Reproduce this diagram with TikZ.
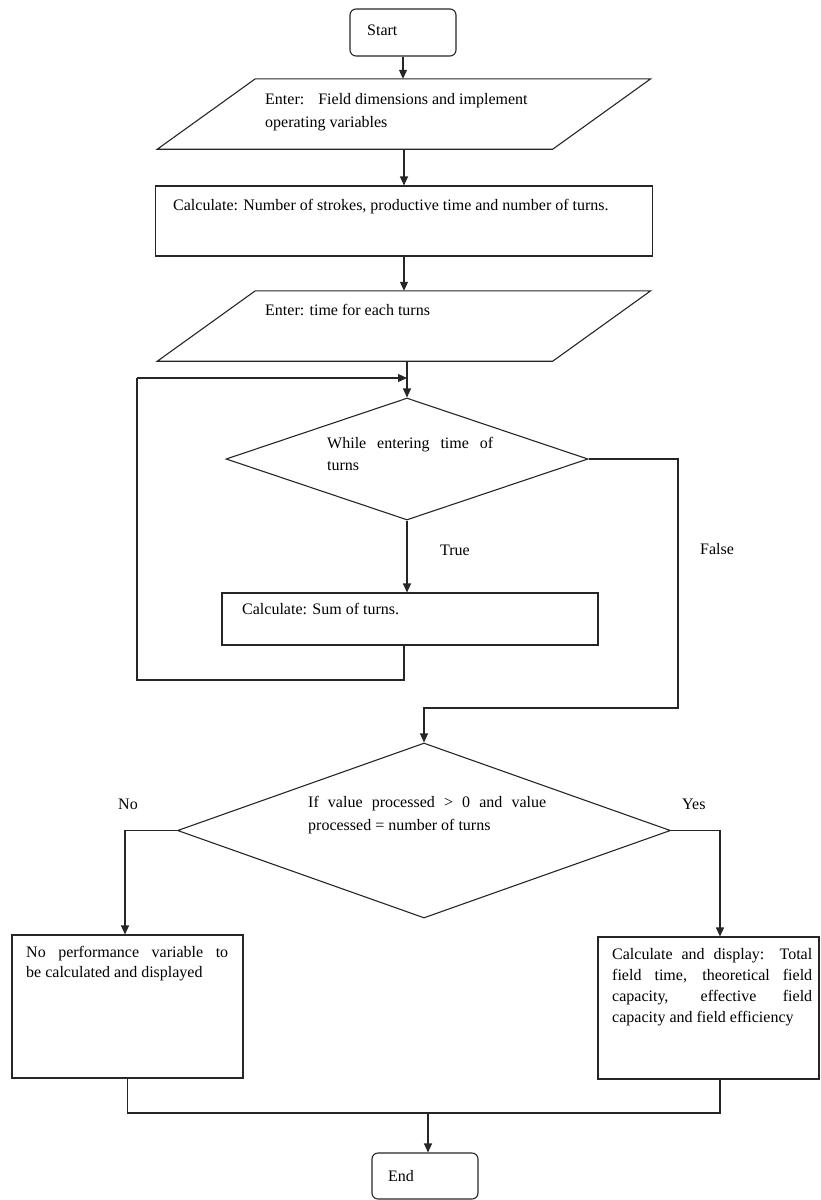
\documentclass[tikz,border=0pt]{standalone}
\usepackage{fontspec}
\setmainfont{Liberation Serif}
\usetikzlibrary{arrows.meta,shapes.geometric,calc}
\begin{document}
\begin{tikzpicture}[x=1pt,y=-1pt,
  line/.style={draw=black!85, line width=1.1pt},
  arr/.style={line, -{Triangle[length=9pt,width=8pt]}},
  box/.style={line, rectangle, inner sep=0pt},
  term/.style={line, rectangle, rounded corners=6pt, inner sep=0pt, minimum width=106pt},
  dia/.style={line, diamond, inner sep=0pt},
  ghost/.style={rectangle, inner sep=0pt},
  txt/.style={anchor=base west, inner sep=0pt, font=\fontsize{16}{20}\selectfont},
]
\useasboundingbox (0,0) rectangle (821,1200);

% shapes
\node[term, minimum height=47pt] (start) at (403,32.5) {};
\node[ghost, minimum width=395pt, minimum height=70pt] (in1) at (404,114) {};
\draw[line] ([xshift=49pt]in1.north west) -- ([xshift=49pt]in1.north east) -- ([xshift=-49pt]in1.south east) -- ([xshift=-49pt]in1.south west) -- cycle;
\node[box, minimum width=497pt, minimum height=70pt] (calc1) at (404,221) {};
\node[ghost, minimum width=395pt, minimum height=70pt] (in2) at (404,326) {};
\draw[line] ([xshift=49pt]in2.north west) -- ([xshift=49pt]in2.north east) -- ([xshift=-49pt]in2.south east) -- ([xshift=-49pt]in2.south west) -- cycle;
\node[dia, minimum width=362pt, minimum height=122pt] (wh) at (407,459) {};
\node[box, minimum width=376pt, minimum height=52pt] (sum) at (410,619) {};
\node[dia, minimum width=493pt, minimum height=175pt] (ifd) at (424,830.5) {};
\node[box, minimum width=231pt, minimum height=143pt] (nob) at (127.5,1006.5) {};
\node[box, minimum width=221pt, minimum height=142pt] (yesb) at (708.5,1008) {};
\node[term, minimum height=46pt] (end) at (425,1176) {};

% texts
\node[txt] (tstart) at (367,35) {Start};
\node[txt] (tin1a) at (265,104) {Enter:\hspace{14pt}Field dimensions and implement};
\node[txt] (tin1b) at (265,127) {operating variables};
\node[txt] (tcalc1) at (173,210) {Calculate: Number of strokes, productive time and number of turns.};
\node[txt] (tin2) at (265,315) {Enter: time for each turns};
\node[txt] (twha) at (327,448) {\makebox[166pt][s]{While entering time of}};
\node[txt] (twhb) at (327,470) {turns};
\node[txt] (tsum) at (242,614) {Calculate: Sum of turns.};
\node[txt] (ttrue) at (440,555) {True};
\node[txt] (tfalse) at (700,554) {False};
\node[txt] (tifa) at (308,807) {\makebox[238pt][s]{If value processed > 0 and value}};
\node[txt] (tifb) at (308,830) {processed = number of turns};
\node[txt] (tno) at (118,809) {No};
\node[txt] (tyes) at (682,809) {Yes};
\node[txt] (tnoa) at (26,957) {\makebox[202pt][s]{No performance variable to}};
\node[txt] (tnob) at (26,977) {be calculated and displayed};
\node[txt] (tya) at (612,959) {\makebox[200pt][s]{Calculate and display: Total}};
\node[txt] (tyb) at (612,980) {\makebox[200pt][s]{field time, theoretical field}};
\node[txt] (tyc) at (612,1001) {\makebox[200pt][s]{capacity, effective field}};
\node[txt] (tyd) at (612,1022) {capacity and field efficiency};
\node[txt] (tend) at (388,1181) {End};

% connectors
\draw[arr] (start.south) -- (start.south |- in1.north);
\draw[arr] (in1.south) -- (calc1.north);
\draw[arr] (calc1.south) -- (in2.north);
\draw[arr] (in2.south -| wh.north) -- (wh.north);
\coordinate (lb) at (137,680);
\coordinate (lt) at (137,378);
\draw[line] ([xshift=-6pt]sum.south) |- (lb) -- (lt);
\draw[arr] (lt) -- (lt -| wh.north);
\draw[arr] (wh.south) -- (wh.south |- sum.north);
\coordinate (f1) at (678,708);
\draw[arr] (wh.east) -| (f1) -| (ifd.north);
\draw[arr] (ifd.west) -| ([xshift=-2.5pt]nob.north);
\draw[arr] (ifd.east) -| ([xshift=11.5pt]yesb.north);
\coordinate (mj) at (428,1113);
\draw[line] (nob.south) |- ([xshift=11.5pt]yesb.south |- mj) -- ([xshift=11.5pt]yesb.south);
\draw[arr] (mj) -- (mj |- end.north);
\end{tikzpicture}
\end{document}
